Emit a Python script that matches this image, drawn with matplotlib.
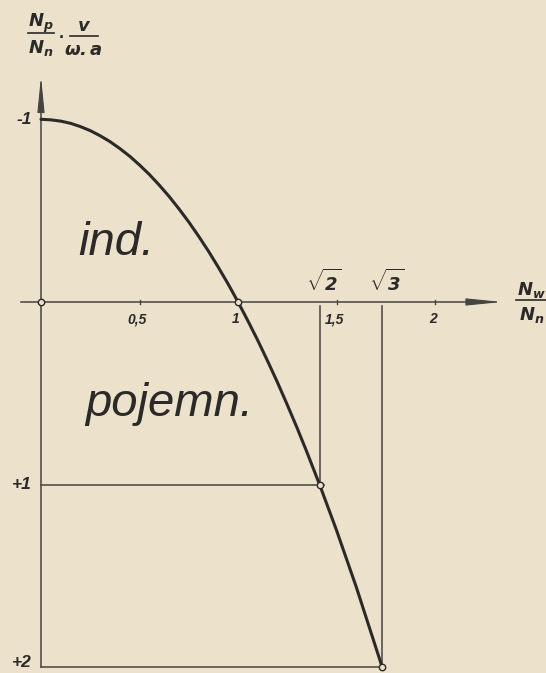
import numpy as np
import matplotlib.pyplot as plt
from matplotlib.patches import FancyArrowPatch

# N_w/N_n against (N_p/N_n)*(v/(w.a))
curve_x = [0.0, 0.05, 0.1, 0.15, 0.2, 0.25, 0.3, 0.35, 0.4, 0.45, 0.5, 0.55, 0.6,
           0.65, 0.7, 0.75, 0.8, 0.85, 0.9, 0.95, 1.0, 1.05, 1.1, 1.15, 1.2, 1.25,
           1.3, 1.35, 1.414, 1.5, 1.6, 1.732]
curve_y = [-1.0, -0.997, -0.99, -0.978, -0.96, -0.938, -0.91, -0.878, -0.84, -0.798,
           -0.75, -0.698, -0.64, -0.578, -0.51, -0.438, -0.36, -0.278, -0.19, -0.098,
           0.0, 0.103, 0.21, 0.323, 0.44, 0.563, 0.69, 0.823, 1.0, 1.25, 1.56, 2.0]

# marked points on the curve
mark_x = [0.0, 1.0, 1.414, 1.732]
mark_y = [0.0, 0.0, 1.0, 2.0]

x_ticks = [0.5, 1.0, 1.5, 2.0]
x_tick_labels = ['0,5', '1', '1,5', '2']
y_ticks = [-1.0, 1.0, 2.0]
y_tick_labels = ['-1', '+1', '+2']
root_x = [1.414, 1.732]
root_labels = [r'$\mathbf{\sqrt{2}}$', r'$\mathbf{\sqrt{3}}$']

paper = '#ece2cb'
ink = '#2b2a28'
thin = '#454441'

plt.rcParams['font.family'] = ['Liberation Sans Narrow', 'Liberation Sans', 'DejaVu Sans']
plt.rcParams['mathtext.fontset'] = 'custom'
plt.rcParams['mathtext.it'] = 'Liberation Sans Narrow:italic'
plt.rcParams['mathtext.rm'] = 'Liberation Sans Narrow:italic'
plt.rcParams['mathtext.sf'] = 'Liberation Sans Narrow:italic'
plt.rcParams['mathtext.bf'] = 'Liberation Sans Narrow:italic:bold'

fig = plt.figure(figsize=(5.46, 6.73), dpi=100)
fig.patch.set_facecolor(paper)
ax = fig.add_axes([0, 0, 1, 1])
ax.set_facecolor(paper)
ax.set_xlim(-0.208, 2.563)
ax.set_ylim(2.031, -1.653)
ax.axis('off')

x_end = 2.34
y_end = -1.235

# axes with long thin arrowheads
ax.plot([-0.1, x_end - 0.05], [0, 0], color=thin, lw=1.1)
ax.plot([0, 0], [2.0, y_end + 0.05], color=thin, lw=1.1)
for start, end in [((x_end - 0.16, 0), (x_end, 0)), ((0, y_end + 0.17), (0, y_end))]:
    ax.add_patch(FancyArrowPatch(start, end, arrowstyle='-|>,head_length=2.2,head_width=0.22',
                                 mutation_scale=10, color=thin, lw=0.8, shrinkA=0, shrinkB=0))

# little ticks on the x axis
for t in x_ticks:
    ax.plot([t, t], [-0.012, 0.012], color=thin, lw=1.0)

# construction lines to +1 and +2
ax.plot([0, mark_x[2] + 0.02], [1, 1], color=thin, lw=1.1)
ax.plot([mark_x[2], mark_x[2]], [0.02, 1], color=thin, lw=1.1)
ax.plot([0, mark_x[3]], [2, 2], color=thin, lw=1.1)
ax.plot([mark_x[3], mark_x[3]], [0.02, 2], color=thin, lw=1.1)

ax.plot(curve_x, curve_y, color=ink, lw=2.2, solid_capstyle='round',
        solid_joinstyle='round', zorder=3)
ax.plot(mark_x, mark_y, 'o', ms=4.6, mfc=paper, mec=ink, mew=1.0, zorder=4)

lbl = dict(color=ink, fontstyle='italic', fontweight='bold')
for t, s in zip(x_ticks, x_tick_labels):
    ax.text(t - 0.01, 0.095, s, fontsize=10, ha='center', va='center', **lbl)
for t, s in zip(y_ticks, y_tick_labels):
    y = min(t, 1.975)
    ax.text(-0.045, y, s, fontsize=12.5, ha='right', va='center', **lbl)
for t, s in zip(root_x, root_labels):
    ax.text(t + 0.02, -0.11, s, fontsize=13, ha='center', va='center', color=ink)

ax.text(0.188, -0.257, 'ind.', fontsize=34, fontstyle='italic', color=ink, va='baseline')
ax.text(0.223, 0.624, 'pojemn.', fontsize=34, fontstyle='italic', color=ink, va='baseline')

# axis titles written as stacked fractions
def frac(x, y, top, bottom, half):
    ax.text(x, y - 0.055, top, fontsize=13, ha='center', va='center', color=ink)
    ax.plot([x - half, x + half], [y, y], color=ink, lw=1.2)
    ax.text(x, y + 0.08, bottom, fontsize=13, ha='center', va='center', color=ink)

frac(0.0, -1.47, r'$\mathbf{N_p}$', r'$\mathbf{N_n}$', 0.065)
ax.text(0.105, -1.47, '.', fontsize=13, fontweight='bold', ha='center', va='center', color=ink)
frac(0.218, -1.455, r'$\mathbf{v}$', r'$\mathbf{\omega . a}$', 0.07)
frac(2.49, -0.011, r'$\mathbf{N_w}$', r'$\mathbf{N_n}$', 0.08)

fig.savefig('out.png', dpi=100, facecolor=paper)
